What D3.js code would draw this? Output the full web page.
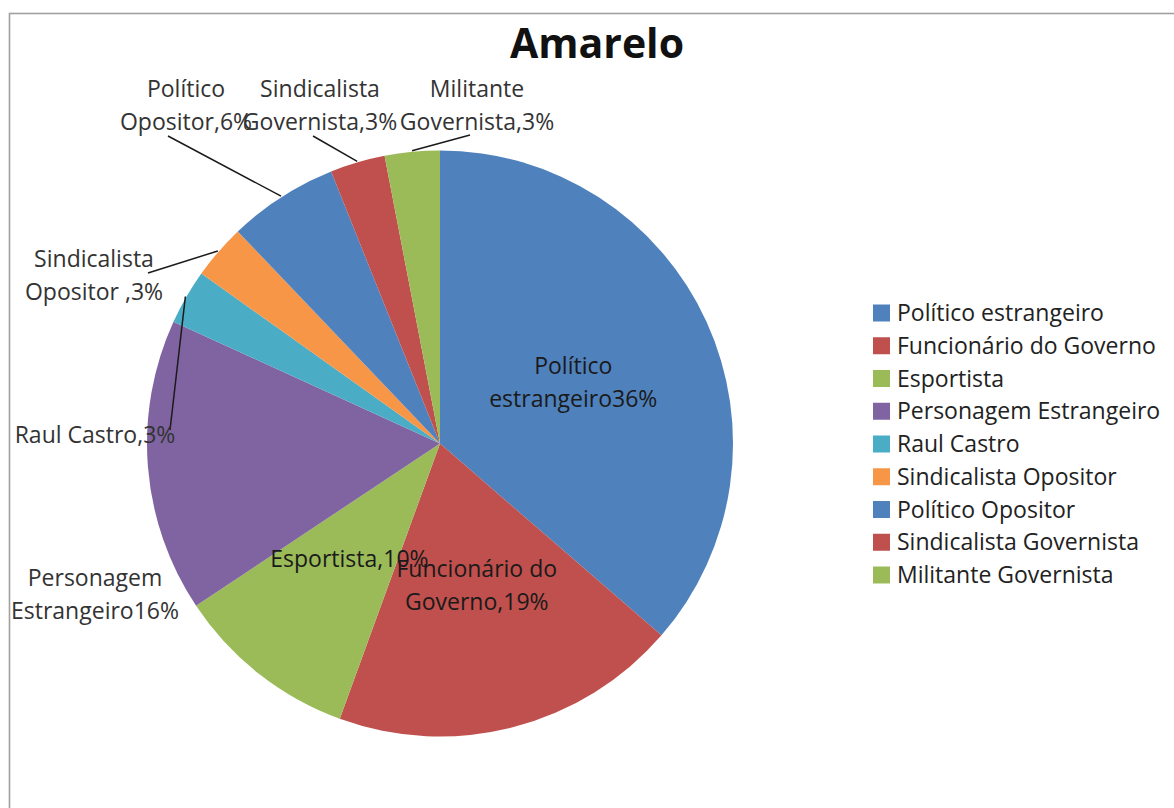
<!DOCTYPE html>
<html>
<head>
<meta charset="utf-8">
<script src="https://cdn.jsdelivr.net/npm/d3@7/dist/d3.min.js"></script>
<style>
  html, body { margin: 0; padding: 0; background: #fff; }
  svg { display: block; }
  text { font-family: "Open Sans", "Noto Sans", sans-serif; }
</style>
</head>
<body>
<svg id="chart" width="1174" height="808"></svg>
<script>
// Categories and their shares (%), in drawing order (clockwise from 12 o'clock)
const categories = [
  "Político estrangeiro",
  "Funcionário do Governo",
  "Esportista",
  "Personagem Estrangeiro",
  "Raul Castro",
  "Sindicalista Opositor",
  "Político Opositor",
  "Sindicalista Governista",
  "Militante Governista"
];
const values = [36, 19, 10, 16, 3, 3, 6, 3, 3];

// Data-label text lines (name part; the value is appended on the last line)
const labelLines = [
  ["Político", "estrangeiro{v}%"],
  ["Funcionário do", "Governo,{v}%"],
  ["Esportista,{v}%"],
  ["Personagem", "Estrangeiro{v}%"],
  ["Raul Castro,{v}%"],
  ["Sindicalista", "Opositor ,{v}%"],
  ["Político", "Opositor,{v}%"],
  ["Sindicalista", "Governista,{v}%"],
  ["Militante", "Governista,{v}%"]
];

const palette = ["#4F81BD", "#C0504D", "#9BBB59", "#8064A2", "#4BACC6", "#F79646",
                 "#4F81BD", "#C0504D", "#9BBB59"];

// Placement of labels that sit outside the pie (centre x, first baseline y)
// and where their leader lines leave the text.
const outsideLayout = {
  "Personagem Estrangeiro": { x: 95, y: 586, leader: null },
  "Raul Castro":            { x: 95, y: 443, leader: [170, 430] },
  "Sindicalista Opositor":  { x: 94, y: 267, leader: [148, 273] },
  "Político Opositor":      { x: 186, y: 97, leader: [168, 136] },
  "Sindicalista Governista":{ x: 320, y: 97, leader: [313, 136] },
  "Militante Governista":   { x: 477, y: 97, leader: [470, 135] }
};

const svg = d3.select("#chart");
const W = 1174, H = 808;
const cx = 440, cy = 443.5, R = 293;
const lineH = 32.5;
const labelSize = 23;

// Chart frame
svg.append("rect")
  .attr("x", 9.5).attr("y", 13.5)
  .attr("width", W + 20).attr("height", H + 20)
  .attr("fill", "#fff")
  .attr("stroke", "#a0a0a0").attr("stroke-width", 1.6);

// Title
svg.append("text")
  .attr("x", 597).attr("y", 58)
  .attr("text-anchor", "middle")
  .attr("font-size", 41).attr("font-weight", 700)
  .attr("fill", "#111")
  .text("Amarelo");

const data = categories.map((c, i) => ({ name: c, value: values[i], color: palette[i], lines: labelLines[i] }));

const pie = d3.pie().value(d => d.value).sort(null);
const arcs = pie(data);
const arc = d3.arc().innerRadius(0).outerRadius(R);
const innerLabelArc = d3.arc().innerRadius(R / 2).outerRadius(R / 2);

const g = svg.append("g").attr("transform", `translate(${cx},${cy})`);

g.selectAll("path.slice")
  .data(arcs)
  .join("path")
  .attr("class", "slice")
  .attr("d", arc)
  .attr("fill", d => d.data.color);

// Leader lines for outside labels, ending on the rim at each slice's mid-angle
arcs.forEach(a => {
  const lay = outsideLayout[a.data.name];
  if (!lay || !lay.leader) return;
  const mid = (a.startAngle + a.endAngle) / 2;
  const ex = cx + Math.sin(mid) * (R + 1);
  const ey = cy - Math.cos(mid) * (R + 1);
  svg.append("line")
    .attr("x1", lay.leader[0]).attr("y1", lay.leader[1])
    .attr("x2", ex).attr("y2", ey)
    .attr("stroke", "#1a1a1a").attr("stroke-width", 1.5);
});

function fillLines(d) {
  return d.data.lines.map(l => l.replace("{v}", d3.format("d")(d.data.value)));
}

// Data labels
arcs.forEach(a => {
  const lines = fillLines(a);
  const lay = outsideLayout[a.data.name];
  let x, y0;
  if (lay) {
    x = lay.x; y0 = lay.y;
  } else {
    const [px, py] = innerLabelArc.centroid(a);
    x = cx + px;
    const blockH = (lines.length - 1) * lineH;
    y0 = cy + py - blockH / 2 + 8;
  }
  const t = svg.append("text")
    .attr("text-anchor", "middle")
    .attr("font-size", labelSize)
    .attr("fill", lay ? "#333" : "#1a1a1a");
  lines.forEach((l, i) => {
    t.append("tspan").attr("x", x).attr("y", y0 + i * lineH).text(l);
  });
});

// Legend
const legend = svg.append("g").attr("transform", "translate(873,313)");
const legendStep = 32.75;
const items = legend.selectAll("g.item")
  .data(data)
  .join("g")
  .attr("class", "item")
  .attr("transform", (d, i) => `translate(0,${i * legendStep})`);
items.append("rect")
  .attr("x", 0).attr("y", -8.5)
  .attr("width", 17).attr("height", 17)
  .attr("fill", d => d.color);
items.append("text")
  .attr("x", 24).attr("y", 8)
  .attr("font-size", 23)
  .attr("fill", "#222")
  .text(d => d.name);
</script>
</body>
</html>
